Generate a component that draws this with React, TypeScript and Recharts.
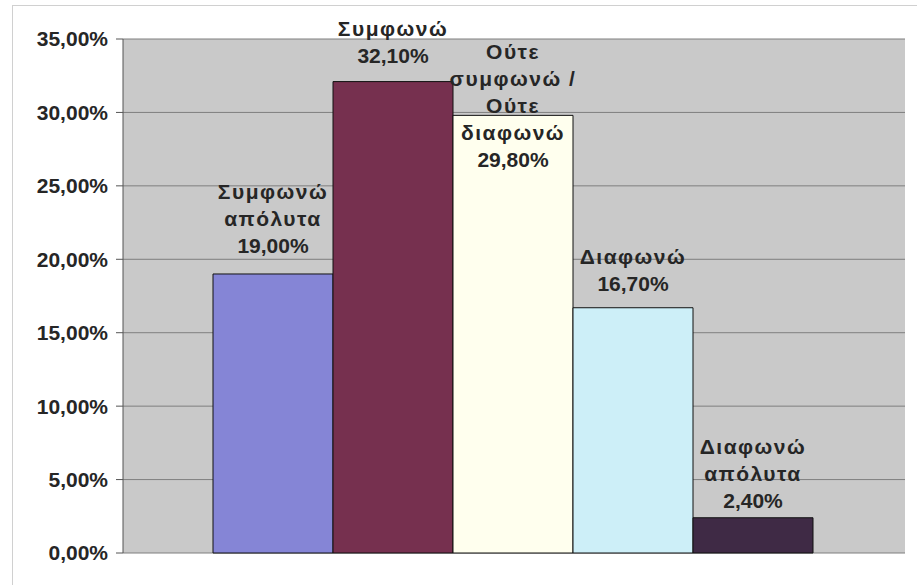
import React from 'react';
import { BarChart, Bar, XAxis, YAxis, CartesianGrid } from 'recharts';

// answer categories, each split over the lines shown above its bar
const answerLines = [
  ['Συμφωνώ', 'απόλυτα'],
  ['Συμφωνώ'],
  ['Ούτε', 'συμφωνώ /', 'Ούτε', 'διαφωνώ'],
  ['Διαφωνώ'],
  ['Διαφωνώ', 'απόλυτα'],
];
const shares = [19.0, 32.1, 29.8, 16.7, 2.4];
const yTicks = [0, 5, 10, 15, 20, 25, 30, 35];

const barColors = ['#8585D6', '#76304F', '#FFFFEE', '#CDEFF8', '#3F2A45'];
// distance from bar top to the centre of the last label line (the third label was pushed down into its bar)
const labelGaps = [29, 27, -44, 25, 18];

const row: Record<string, number | string> = { name: '' };
shares.forEach((v, i) => {
  row[`s${i}`] = v;
});
const chartData = [row];

const pct = (v: number) => `${v.toFixed(2).replace('.', ',')}%`;

const FONT = '"Liberation Sans", Arial, sans-serif';
const LINE_H = 27;

const makeLabel = (idx: number) => (props: any) => {
  const { x, y, width } = props;
  const words = answerLines[idx];
  const lines = [...words, pct(shares[idx])];
  const first = y - labelGaps[idx] - (lines.length - 1) * LINE_H;
  const cx = x + width / 2;
  return (
    <text
      x={cx}
      y={first}
      textAnchor="middle"
      dominantBaseline="central"
      fontFamily={FONT}
      fontWeight="bold"
      fontSize={21}
      fill="#262626"
    >
      {lines.map((l, i) => (
        <tspan key={i} x={cx} y={first + i * LINE_H} letterSpacing={i < words.length ? 1.5 : 0}>
          {l}
        </tspan>
      ))}
    </text>
  );
};

export default function App() {
  return (
    <div style={{ position: 'absolute', left: 0, top: 0, width: 917, height: 585, background: '#fff' }}>
      <div
        style={{
          position: 'absolute',
          left: 12,
          top: 5,
          width: 920,
          height: 600,
          borderTop: '1px solid #d0d0d0',
          borderLeft: '1px solid #d0d0d0',
        }}
      />
      <BarChart
        width={917}
        height={585}
        data={chartData}
        margin={{ top: 39, right: 12, bottom: 32, left: 0 }}
        barCategoryGap={90}
        barGap={0}
        style={{ position: 'absolute', left: 0, top: 0 }}
      >
        <CartesianGrid vertical={false} fill="#C9C9C9" stroke="#7f7f7f" strokeWidth={1} />
        <XAxis dataKey="name" tick={false} tickLine={false} height={0} axisLine={{ stroke: '#555' }} />
        <YAxis
          domain={[0, 35]}
          ticks={yTicks}
          width={123}
          tickSize={7}
          tickMargin={8}
          tickFormatter={pct}
          axisLine={{ stroke: '#555' }}
          tickLine={{ stroke: '#555' }}
          tick={{ fontFamily: FONT, fontWeight: 'bold', fontSize: 21, fill: '#262626' }}
        />
        <YAxis yAxisId="r" orientation="right" width={0} tick={false} tickLine={false} axisLine={{ stroke: '#aaa' }} />
        {shares.map((_, i) => (
          <Bar
            key={i}
            dataKey={`s${i}`}
            fill={barColors[i]}
            stroke="#111"
            strokeWidth={1}
            isAnimationActive={false}
            label={makeLabel(i)}
          />
        ))}
      </BarChart>
    </div>
  );
}
